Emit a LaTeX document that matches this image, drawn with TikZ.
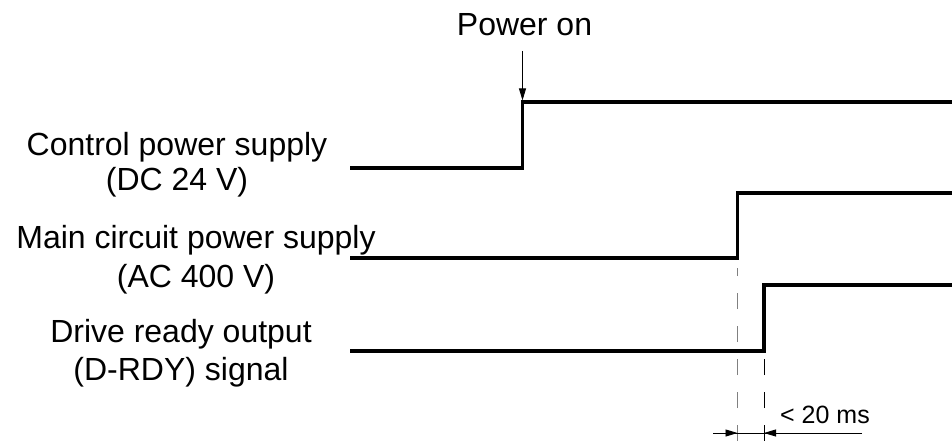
\documentclass[tikz,border=0pt]{standalone}
\usepackage{fontspec}
\setmainfont{Liberation Sans}
\usetikzlibrary{arrows.meta,positioning}
\tikzset{
  sig/.style={line width=3.2pt,line join=miter},
  arr/.style={-{Triangle[length=12pt,width=7pt]},line width=0.9pt},
  lbl/.style={align=center,inner sep=0pt,anchor=north,font=\fontsize{32}{37}\selectfont},
  small/.style={inner sep=0pt,font=\fontsize{25}{28}\selectfont},
  guide/.style={line width=1pt,dash pattern=on 16pt off 17pt,draw=#1},
  guide/.default={black},
}

\begin{document}
\begin{tikzpicture}[x=1pt,y=-1pt]
 \useasboundingbox (0,0) rectangle (952,441);
 % signal names
 \node[lbl] (cps) at (177,131.7) {Control power supply\\[-2pt](DC 24 V)};
 \node[lbl] (mps) at (196,225.1) {Main circuit power supply\\[2pt](AC 400 V)};
 \node[lbl] (rdy) at (181,319.1) {Drive ready output\\[1pt](D-RDY) signal};
 \node[lbl,anchor=base] (pwr) at (524.5,35.5) {Power on};
 % edges of the waveforms
 \coordinate (c0) at (350,168);   \coordinate (c1) at (522.5,102);
 \coordinate (m0) at (350,258);   \coordinate (m1) at (737.5,193);
 \coordinate (r0) at (350,351);   \coordinate (r1) at (764,285);
 \draw[sig] (c0) -| (c1) -- (952,102);
 \draw[sig] (m0) -| (m1) -- (952,193);
 \draw[sig] (r0) -| (r1) -- (952,285);
 \coordinate (on) at (522.5,51);
 \draw[arr,shorten >=1.6pt] (on) -- (c1);
 % delay between the two rising edges
 \coordinate (ta) at (737.5,433); \coordinate (tb) at (764,433);
 \coordinate (la) at (713,433);   \coordinate (lb) at (862,433);
 \draw[guide=gray] (737.5,441) -- (737.5,268);
 \draw[guide] (764,441) -- (764,358);
 \draw[line width=0.9pt] (la) -- (lb);
 \draw[arr] (la) -- (ta);
 \draw[arr] (lb) -- (tb);
 \node[small,anchor=base west] (dly) at (780,423) {< 20 ms};
\end{tikzpicture}
\end{document}
